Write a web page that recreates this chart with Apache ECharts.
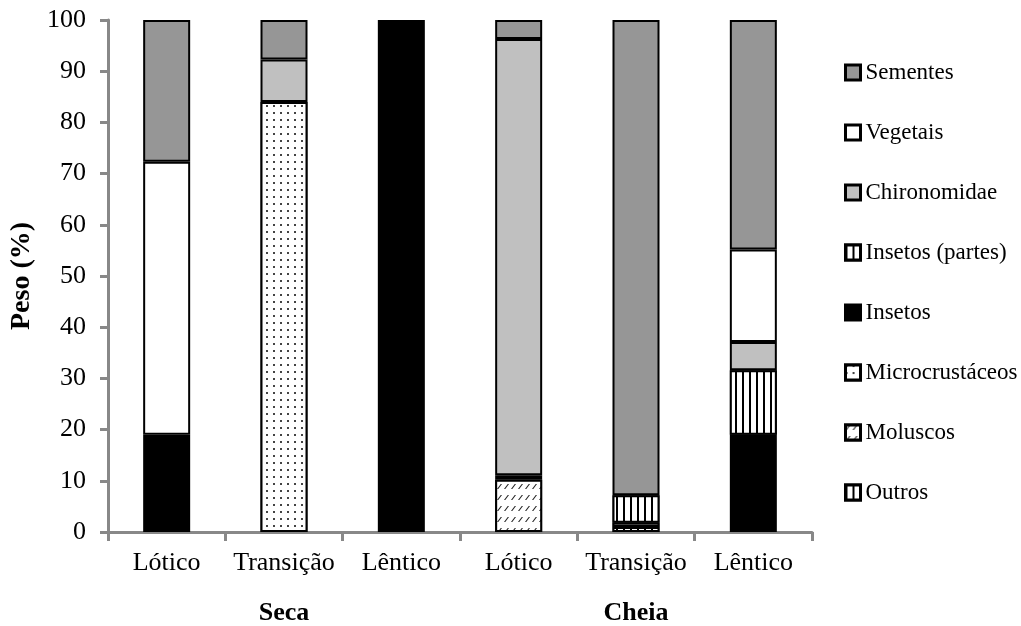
<!DOCTYPE html>
<html>
<head>
<meta charset="utf-8">
<script src="https://cdn.jsdelivr.net/npm/echarts@6/dist/echarts.min.js"></script>
<style>html,body{margin:0;padding:0;background:#fff}#c{width:1021px;height:626px}</style>
</head>
<body>
<div id="c"></div>
<script>
const categories = ['Lótico', 'Transição', 'Lêntico', 'Lótico', 'Transição', 'Lêntico'];
const groups = ['Seca', 'Cheia'];
const yTicks = { min: 0, max: 100, interval: 10 };

const outros          = [0,    0,    0,   0,    1.0,  0];
const moluscos        = [0,    0,    0,   10.2, 0,    0];
const microcrustaceos = [0,    84.0, 0,   0,    0.8,  0];
const insetos         = [19.0, 0,    100, 0.9,  0,    19.0];
const insetosPartes   = [0,    0,    0,   0,    5.4,  12.6];
const chironomidae    = [0,    8.3,  0,   85.2, 0,    5.5];
const vegetais        = [53.3, 0,    0,   0,    0,    18.1];
const sementes        = [27.7, 7.7,  0,   3.7,  92.8, 44.8];

const FONT = '"Liberation Serif", "Times New Roman", serif';

const vStripe = { symbol: 'rect', symbolSize: 1, color: '#000', backgroundColor: '#fff', dashArrayX: [2, 5], dashArrayY: [1, 0], rotation: 0 };
const dots = { symbol: 'rect', symbolSize: 1, color: '#444', backgroundColor: '#fff', dashArrayX: [1.5, 5], dashArrayY: [1.5, 4.5], rotation: 0 };
const hatch = { symbol: 'path://M0,6 L4.5,0 L6,0 L1.5,6 Z', symbolSize: 1, symbolKeepAspect: false, color: '#222', backgroundColor: '#fff', dashArrayX: [5, 1.5], dashArrayY: [5, 6], rotation: 0 };

const specs = [
  { name: 'Outros', data: outros, color: '#fff', decal: vStripe },
  { name: 'Moluscos', data: moluscos, color: '#fff', decal: hatch },
  { name: 'Microcrustáceos', data: microcrustaceos, color: '#fff', decal: dots },
  { name: 'Insetos', data: insetos, color: '#000' },
  { name: 'Insetos (partes)', data: insetosPartes, color: '#fff', decal: vStripe },
  { name: 'Chironomidae', data: chironomidae, color: '#c0c0c0' },
  { name: 'Vegetais', data: vegetais, color: '#ffffff' },
  { name: 'Sementes', data: sementes, color: '#969696' }
];

const series = specs.map(s => ({
  name: s.name,
  type: 'bar',
  stack: 'total',
  barWidth: 47,
  xAxisIndex: 0,
  data: s.data.map(v => v === 0 ? null : v),
  itemStyle: Object.assign({ color: s.color, borderColor: '#000', borderWidth: 2 }, s.decal ? { decal: s.decal } : {}),
  emphasis: { disabled: true }
}));

const legendOrder = ['Sementes', 'Vegetais', 'Chironomidae', 'Insetos (partes)', 'Insetos', 'Microcrustáceos', 'Moluscos', 'Outros'];

const chart = echarts.init(document.getElementById('c'));
chart.setOption({
  animation: false,
  backgroundColor: '#fff',
  grid: { left: 108, right: 209, top: 20, bottom: 94, containLabel: false, outerBoundsMode: 'none' },
  legend: {
    data: legendOrder,
    orient: 'vertical',
    left: 839,
    top: 56,
    itemWidth: 15,
    itemHeight: 15,
    itemGap: 37,
    icon: 'rect',
    itemStyle: { borderWidth: 3, borderColor: '#000' },
    textStyle: { fontFamily: FONT, fontSize: 23, color: '#000' },
    selectedMode: false
  },
  xAxis: [{
    type: 'category',
    data: categories,
    axisLine: { lineStyle: { color: '#888', width: 3 } },
    axisTick: { show: true, alignWithLabel: false, length: 9, lineStyle: { color: '#888', width: 3 } },
    axisLabel: { fontFamily: FONT, fontSize: 26, color: '#000', margin: 18, interval: 0 }
  }, {
    type: 'category',
    data: groups,
    position: 'bottom',
    axisLine: { show: false },
    axisTick: { show: false },
    axisLabel: { fontFamily: FONT, fontSize: 26, fontWeight: 'bold', color: '#000', margin: 68 }
  }],
  yAxis: {
    type: 'value',
    min: yTicks.min, max: yTicks.max, interval: yTicks.interval,
    name: 'Peso (%)',
    nameLocation: 'middle',
    nameGap: 70,
    nameTextStyle: { fontFamily: FONT, fontSize: 28, fontWeight: 'bold', color: '#000' },
    axisLine: { show: true, lineStyle: { color: '#888', width: 3 } },
    axisTick: { show: true, length: 8, lineStyle: { color: '#888', width: 3 } },
    axisLabel: { fontFamily: FONT, fontSize: 26, color: '#000', margin: 22 },
    splitLine: { show: false }
  },
  series: series
});
</script>
</body>
</html>
